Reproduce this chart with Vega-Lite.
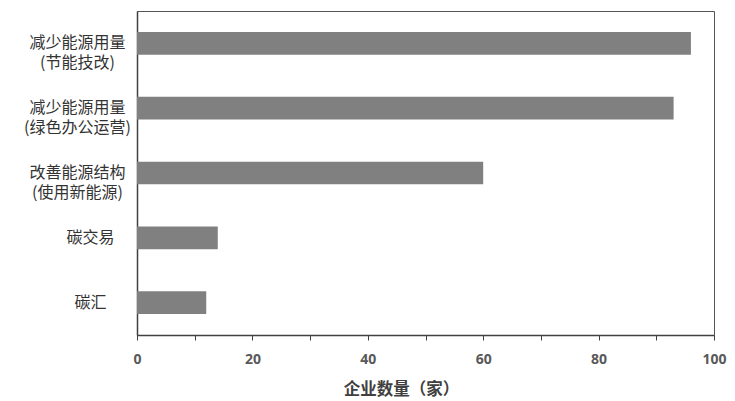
{
  "$schema": "https://vega.github.io/schema/vega-lite/v6.json",
  "autosize": "none",
  "width": 577,
  "height": 324,
  "padding": {"left": 137, "top": 11, "right": 21, "bottom": 66},
  "background": "white",
  "config": {
    "view": {"stroke": "#555555", "strokeWidth": 1},
    "font": "Noto Sans CJK SC"
  },
  "data": {
    "values": [
      {"措施": "减少能源用量\n(节能技改)", "企业数量": 96},
      {"措施": "减少能源用量\n(绿色办公运营)", "企业数量": 93},
      {"措施": "改善能源结构\n(使用新能源)", "企业数量": 60},
      {"措施": "碳交易", "企业数量": 14},
      {"措施": "碳汇", "企业数量": 12}
    ]
  },
  "mark": {"type": "bar", "color": "#808080"},
  "encoding": {
    "y": {
      "field": "措施",
      "type": "nominal",
      "sort": null,
      "scale": {"paddingInner": 0.65, "paddingOuter": 0.325},
      "axis": {
        "title": null,
        "ticks": false,
        "domainColor": "#404040",
        "domainWidth": 1.5,
        "labelExpr": "split(datum.label, '\\n')",
        "labelAlign": "center",
        "labelBaseline": "middle",
        "labelPadding": {"condition": {"test": "indexof(datum.value, '\\n') >= 0", "value": 60}, "value": 47},
        "labelLineHeight": 19.5,
        "labelFontSize": 16,
        "labelColor": "#333333",
        "labelFont": "Noto Sans CJK SC",
        "labelLimit": 200
      }
    },
    "x": {
      "field": "企业数量",
      "type": "quantitative",
      "scale": {"domain": [0, 100], "nice": false},
      "axis": {
        "title": "企业数量（家）",
        "titleFont": "Noto Sans CJK SC",
        "titleFontSize": 16.5,
        "titleFontWeight": "bold",
        "titleColor": "#404040",
        "titleX": 264,
        "titleY": 54,
        "titleAlign": "center",
        "titleBaseline": "middle",
        "values": [0, 10, 20, 30, 40, 50, 60, 70, 80, 90, 100],
        "labelExpr": "datum.value % 20 == 0 ? datum.label : ''",
        "labelFontSize": 14,
        "labelFontWeight": "bold",
        "labelColor": "#595959",
        "labelFont": "Open Sans",
        "labelPadding": 12,
        "grid": false,
        "tickSize": 5,
        "tickColor": "#404040",
        "domainColor": "#404040",
        "domainWidth": 1.5,
        "labelFlush": false
      }
    }
  }
}
